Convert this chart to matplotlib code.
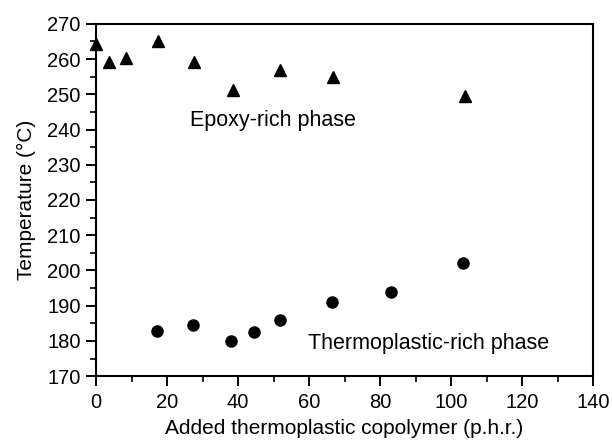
import matplotlib
matplotlib.use("Agg")
import matplotlib.pyplot as plt
from matplotlib.ticker import MultipleLocator

plt.rcParams["font.family"] = ["Liberation Sans", "DejaVu Sans"]

# Epoxy-rich phase (triangles)
epoxy_x = [0, 3.7, 8.4, 17.5, 27.6, 38.7, 51.9, 66.7, 103.8]
epoxy_t = [264.3, 259.1, 260.4, 265.0, 259.1, 251.3, 256.9, 255.0, 249.6]

# Thermoplastic-rich phase (circles)
thermo_x = [17.1, 27.3, 38.1, 44.6, 51.7, 66.4, 83.1, 103.5]
thermo_t = [182.8, 184.5, 180.0, 182.6, 185.9, 191.1, 193.8, 202.0]

fig = plt.figure(figsize=(6.12, 4.41), dpi=100)
ax = fig.add_axes([0.157, 0.147, 0.812, 0.799])

ax.plot(epoxy_x, epoxy_t, linestyle="none", marker="^", markersize=9,
        color="black", clip_on=False)
ax.plot(thermo_x, thermo_t, linestyle="none", marker="o", markersize=8,
        color="black", clip_on=False)

ax.text(26.5, 242.7, "Epoxy-rich phase", fontsize=15.5, va="center", ha="left")
ax.text(59.8, 179.3, "Thermoplastic-rich phase", fontsize=15.5, va="center", ha="left")

ax.set_xlim(0, 140)
ax.set_ylim(170, 270)
ax.xaxis.set_major_locator(MultipleLocator(20))
ax.xaxis.set_minor_locator(MultipleLocator(10))
ax.yaxis.set_major_locator(MultipleLocator(10))
ax.yaxis.set_minor_locator(MultipleLocator(5))
ax.tick_params(which="major", direction="out", length=7, width=1.4, labelsize=14.5)
ax.tick_params(which="minor", direction="out", length=4, width=1.2)
ax.tick_params(axis="x", pad=5)
ax.tick_params(axis="y", pad=4)
for s in ax.spines.values():
    s.set_linewidth(1.5)

ax.set_xlabel("Added thermoplastic copolymer (p.h.r.)", fontsize=15, labelpad=5)
ax.set_ylabel("Temperature (\u00b0C)", fontsize=15, labelpad=8)

fig.savefig("out.png", dpi=100)
